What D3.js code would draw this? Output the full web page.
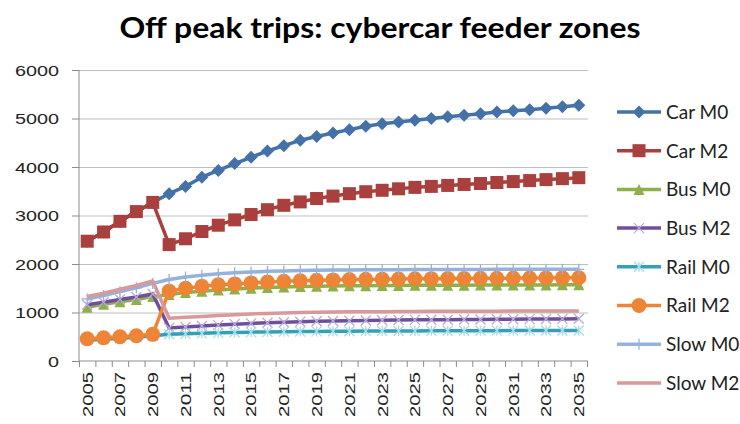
<!DOCTYPE html>
<html>
<head>
<meta charset="utf-8">
<script src="https://cdn.jsdelivr.net/npm/d3@7"></script>
<style>
  body { margin: 0; background: #fff; }
  svg { display: block; font-family: Lato, "Open Sans", sans-serif; }
</style>
</head>
<body>
<svg id="canvas" width="740" height="424"></svg>
<script>
let years = d3.range(2005, 2036).map(String)
let yTicks = [0, 1000, 2000, 3000, 4000, 5000, 6000]

let carM0 = [2470, 2660, 2880, 3080, 3270, 3450, 3600, 3790, 3930, 4070, 4200, 4330, 4440, 4550, 4630,
    4700, 4770, 4840, 4890, 4930, 4965, 5000, 5035, 5065, 5100, 5135, 5160, 5180, 5210, 5240, 5275]
let carM2 = [2470, 2660, 2880, 3080, 3270, 2400, 2520, 2670, 2800, 2910, 3020, 3120, 3210, 3280, 3350,
    3400, 3450, 3490, 3520, 3550, 3580, 3600, 3620, 3640, 3660, 3680, 3700, 3720, 3740, 3760, 3780]
let busM0 = [1110, 1170, 1220, 1270, 1330, 1370, 1410, 1440, 1465, 1485, 1500, 1515, 1525, 1535, 1540,
    1545, 1550, 1553, 1556, 1558, 1560, 1562, 1563, 1564, 1565, 1566, 1567, 1568, 1569, 1570, 1570]
let busM2 = [1160, 1210, 1270, 1320, 1380, 680, 700, 720, 740, 760, 775, 790, 800, 810, 820,
    825, 830, 835, 840, 845, 848, 850, 852, 855, 857, 860, 862, 864, 866, 868, 870]
let railM0 = [430, 450, 470, 490, 520, 550, 560, 570, 580, 590, 595, 600, 605, 608, 610,
    612, 614, 616, 618, 620, 621, 622, 623, 624, 625, 626, 627, 628, 629, 630, 630]
let railM2 = [460, 480, 500, 520, 550, 1440, 1500, 1540, 1570, 1590, 1610, 1630, 1645, 1655, 1665,
    1672, 1678, 1683, 1688, 1692, 1695, 1698, 1700, 1703, 1705, 1707, 1709, 1711, 1713, 1715, 1717]
let slowM0 = [1280, 1350, 1430, 1510, 1600, 1680, 1730, 1770, 1800, 1820, 1835, 1848, 1858, 1865, 1870,
    1874, 1877, 1880, 1882, 1884, 1885, 1886, 1887, 1888, 1889, 1890, 1890, 1890, 1890, 1890, 1890]
let slowM2 = [1330, 1400, 1480, 1560, 1650, 880, 900, 920, 940, 955, 970, 980, 990, 998, 1005,
    1010, 1013, 1016, 1018, 1020, 1022, 1024, 1025, 1026, 1027, 1028, 1029, 1030, 1030, 1030, 1030]

let seriesNames = ['Car M0', 'Car M2', 'Bus M0', 'Bus M2', 'Rail M0', 'Rail M2', 'Slow M0', 'Slow M2']
let seriesValues = [carM0, carM2, busM0, busM2, railM0, railM2, slowM0, slowM2]
let seriesColors = ['#4472a8', '#a9403d', '#8db04b', '#6f4f9c', '#33a0b8', '#ee8536', '#94b2dc', '#d9999a']
let markerColors = ['#4472a8', '#a9403d', '#8db04b', '#b9aad6', '#a8dbe6', '#ee8536', '#94b2dc', null]
let markerTypes = ['diamond', 'square', 'triangle', 'x', 'asterisk', 'circle', 'plus', 'none']

let svg = d3.select('#canvas')

let plotLeft = 79, plotRight = 587, plotTop = 70, plotBottom = 361

let x = d3.scaleBand().domain(years).range([plotLeft, plotRight])
let xEdge = d3.scaleLinear().domain([0, years.length]).range([plotLeft, plotRight])
let y = d3.scaleLinear().domain([0, 6000]).range([plotBottom, plotTop])

// gridlines
svg.append('g')
    .attr('transform', 'translate(' + plotLeft + ',0)')
    .call(d3.axisLeft(y).tickValues(yTicks.slice(1)).tickSize(-(plotRight - plotLeft + 1)).tickFormat(''))
    .call(g => g.select('.domain').remove())
    .selectAll('line').attr('stroke', '#bfbfbf').attr('stroke-width', 1.2)

// y axis
let yAxis = svg.append('g')
    .attr('transform', 'translate(' + plotLeft + ',0)')
    .call(d3.axisLeft(y).tickValues(yTicks).tickSize(7).tickPadding(13).tickFormat(d3.format('d')))
yAxis.select('.domain').attr('stroke', '#8c8c8c').attr('d', 'M0,' + plotBottom + 'V' + plotTop)
yAxis.selectAll('line').attr('stroke', '#8c8c8c')
yAxis.selectAll('text')
    .attr('fill', '#222')
    .style('font-size', '15px')
    .attr('dy', '0.36em')
    .attr('textLength', d => String(d).length * 11)
    .attr('lengthAdjust', 'spacingAndGlyphs')

// x axis ticks at category edges
let xAxis = svg.append('g')
    .attr('transform', 'translate(0,' + plotBottom + ')')
    .call(d3.axisBottom(xEdge).tickValues(d3.range(years.length + 1)).tickSize(6).tickFormat(''))
xAxis.select('.domain').attr('stroke', '#8c8c8c').attr('d', 'M' + plotLeft + ',0H' + (plotRight + 1))
xAxis.selectAll('line').attr('stroke', '#8c8c8c')

// x labels every other year
svg.append('g')
    .attr('transform', 'translate(0,' + plotBottom + ')')
    .call(d3.axisBottom(x).tickValues(years.filter((d, i) => i % 2 === 0)).tickSize(0))
    .call(g => g.select('.domain').remove())
    .selectAll('text')
    .attr('fill', '#222')
    .style('font-size', '15px')
    .attr('text-anchor', 'end')
    .attr('transform', 'rotate(-90)')
    .attr('x', -11)
    .attr('y', 0)
    .attr('dy', '0.36em')
    .attr('textLength', 45)
    .attr('lengthAdjust', 'spacingAndGlyphs')

let drawMarker = (g, type, color, size) => {
    let s = size / 2
    if (type === 'diamond') {
        g.append('path').attr('d', 'M0,' + (-s) + 'L' + s + ',0L0,' + s + 'L' + (-s) + ',0Z').attr('fill', color)
    } else if (type === 'square') {
        g.append('rect').attr('x', -s).attr('y', -s).attr('width', size).attr('height', size).attr('fill', color)
    } else if (type === 'triangle') {
        g.append('path').attr('d', 'M0,' + (-s) + 'L' + s + ',' + s + 'L' + (-s) + ',' + s + 'Z').attr('fill', color)
    } else if (type === 'circle') {
        g.append('circle').attr('r', s).attr('fill', color)
    } else if (type === 'x') {
        g.append('path').attr('d', 'M' + (-s) + ',' + (-s) + 'L' + s + ',' + s + 'M' + (-s) + ',' + s + 'L' + s + ',' + (-s))
            .attr('stroke', color).attr('stroke-width', 1.3).attr('fill', 'none')
    } else if (type === 'asterisk') {
        g.append('path').attr('d', 'M' + (-s) + ',' + (-s) + 'L' + s + ',' + s + 'M' + (-s) + ',' + s + 'L' + s + ',' + (-s) + 'M0,' + (-s) + 'V' + s)
            .attr('stroke', color).attr('stroke-width', 1.3).attr('fill', 'none')
    } else if (type === 'plus') {
        g.append('path').attr('d', 'M' + (-s) + ',0H' + s + 'M0,' + (-s) + 'V' + s)
            .attr('stroke', color).attr('stroke-width', 1.3).attr('fill', 'none')
    }
}

let markerSizes = { diamond: 13, square: 13, triangle: 11, x: 10, asterisk: 10, plus: 11, circle: 15 }

let line = d3.line()
    .x((d, i) => x(years[i]) + x.bandwidth() / 2)
    .y(d => y(d))

seriesValues.forEach((vals, k) => {
    let g = svg.append('g')
    g.append('path')
        .datum(vals)
        .attr('d', line)
        .attr('fill', 'none')
        .attr('stroke', seriesColors[k])
        .attr('stroke-width', 3.5)
        .attr('stroke-linejoin', 'round')
    if (markerTypes[k] !== 'none') {
        g.selectAll('g.m')
            .data(vals)
            .enter()
            .append('g')
            .attr('class', 'm')
            .attr('transform', (d, i) => 'translate(' + (x(years[i]) + x.bandwidth() / 2) + ',' + y(d) + ')')
            .each(function () {
                drawMarker(d3.select(this), markerTypes[k], markerColors[k], markerSizes[markerTypes[k]])
            })
    }
})

// legend
let legend = svg.append('g')
seriesNames.forEach((name, k) => {
    let ly = 112 + k * 38.7
    let row = legend.append('g').attr('transform', 'translate(639,' + ly + ')')
    row.append('line')
        .attr('x1', -22).attr('x2', 22)
        .attr('stroke', seriesColors[k]).attr('stroke-width', 3.5)
    if (markerTypes[k] !== 'none') {
        drawMarker(row, markerTypes[k], markerColors[k], markerSizes[markerTypes[k]])
    }
    row.append('text')
        .attr('x', 27)
        .attr('dy', '0.36em')
        .attr('fill', '#222')
        .style('font-size', '19px')
        .text(name)
})

svg.append('text')
    .attr('x', 380)
    .attr('y', 38)
    .attr('text-anchor', 'middle')
    .attr('font-weight', 'bold')
    .style('font-size', '28px')
    .attr('textLength', 521)
    .attr('lengthAdjust', 'spacingAndGlyphs')
    .text('Off peak trips: cybercar feeder zones')
</script>
</body>
</html>
